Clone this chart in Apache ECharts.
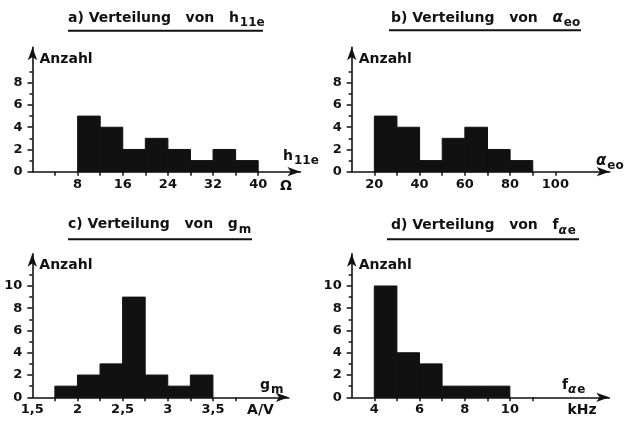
<!DOCTYPE html>
<html><head><meta charset="utf-8">
<script src="https://cdn.jsdelivr.net/npm/echarts@6/dist/echarts.min.js"></script>
<style>html,body{margin:0;padding:0;background:#fff}#c{width:627px;height:422px}</style>
</head><body><div id="c"></div>
<script>
// ---- data ----
const aEdges = [8, 12, 16, 20, 24, 28, 32, 36, 40];
const aCounts = [5, 4, 2, 3, 2, 1, 2, 1];
const bEdges = [20, 30, 40, 50, 60, 70, 80, 90];
const bCounts = [5, 4, 1, 3, 4, 2, 1];
const cEdges = [1.75, 2, 2.25, 2.5, 2.75, 3, 3.25, 3.5];
const cCounts = [1, 2, 3, 9, 2, 1, 2];
const dEdges = [4, 5, 6, 7, 8, 9, 10];
const dCounts = [10, 4, 3, 1, 1, 1];

const aXTicks = [4, 8, 12, 16, 20, 24, 28, 32, 36, 40];
const aXLabels = [8, 16, 24, 32, 40];
const bXTicks = [20, 30, 40, 50, 60, 70, 80, 90, 100];
const bXLabels = [20, 40, 60, 80, 100];
const cXTicks = [1.75, 2, 2.25, 2.5, 2.75, 3, 3.25, 3.5, 3.75];
const cXLabels = [1.5, 2, 2.5, 3, 3.5];
const dXTicks = [4, 5, 6, 7, 8, 9, 10, 11];
const dXLabels = [4, 6, 8, 10];
const abYLabels = [0, 2, 4, 6, 8];
const abYMinor = [1, 3, 5, 7, 9];
const cdYLabels = [0, 2, 4, 6, 8, 10];
const cdYMinor = [1, 3, 5, 7, 9, 11];

const FONT = 'DejaVu Sans';
const INK = '#111';
const W = 'bold';

function bins(edges, counts) {
  return counts.map((c, i) => [edges[i], edges[i + 1], c]);
}

const panels = [
  { grid: { left: 32.5, top: 47.2, width: 268, height: 124.5 }, xMin: 0, xMax: 47.5, yMax: 11.2,
    xTicks: aXTicks, xLabels: aXLabels, yLabels: abYLabels, yMinor: abYMinor, data: bins(aEdges, aCounts) },
  { grid: { left: 351.7, top: 47.2, width: 258, height: 124.5 }, xMin: 10, xMax: 124, yMax: 11.2,
    xTicks: bXTicks, xLabels: bXLabels, yLabels: abYLabels, yMinor: abYMinor, data: bins(bEdges, bCounts) },
  { grid: { left: 32.3, top: 253.7, width: 256.5, height: 143.6 }, xMin: 1.5, xMax: 4.34, yMax: 12.9,
    xTicks: cXTicks, xLabels: cXLabels, yLabels: cdYLabels, yMinor: cdYMinor, data: bins(cEdges, cCounts) },
  { grid: { left: 351.7, top: 253.7, width: 257.6, height: 143.6 }, xMin: 3, xMax: 14.4, yMax: 12.9,
    xTicks: dXTicks, xLabels: dXLabels, yLabels: cdYLabels, yMinor: cdYMinor, data: bins(dEdges, dCounts) }
];

const grids = [], xAxes = [], yAxes = [], series = [];
panels.forEach((p, i) => {
  grids.push(p.grid);
  xAxes.push({
    type: 'value', gridIndex: i, min: p.xMin, max: p.xMax, position: 'bottom',
    axisLine: { show: true, onZero: false, symbol: ['none', 'arrow'], symbolSize: [7, 13],
      lineStyle: { color: INK, width: 1.6 } },
    axisTick: { show: true, customValues: p.xTicks, length: 4, lineStyle: { color: INK, width: 1.5 } },
    axisLabel: { show: true, customValues: p.xLabels, margin: 6, color: INK, fontFamily: FONT, fontSize: 13,
      fontWeight: W, showMinLabel: true, showMaxLabel: true,
      formatter: v => String(v).replace('.', ',') },
    splitLine: { show: false }
  });
  yAxes.push({
    type: 'value', gridIndex: i, min: 0, max: p.yMax, position: 'left',
    axisLine: { show: true, onZero: false, symbol: ['none', 'arrow'], symbolSize: [7, 13],
      lineStyle: { color: INK, width: 1.6 } },
    axisTick: { show: true, customValues: p.yLabels, length: 5, lineStyle: { color: INK, width: 1.5 } },
    axisLabel: { show: true, customValues: p.yLabels, margin: 10, color: INK, fontFamily: FONT, fontSize: 13,
      fontWeight: W, showMinLabel: true },
    splitLine: { show: false },
    name: 'Anzahl', nameLocation: 'end', nameGap: -12,
    nameTextStyle: { align: 'left', verticalAlign: 'middle', padding: [0, 0, 0, 7],
      color: INK, fontFamily: FONT, fontSize: 14, fontWeight: W }
  });
  yAxes.push({
    type: 'value', gridIndex: i, min: 0, max: p.yMax, position: 'left', offset: 0,
    axisLine: { show: false },
    axisTick: { show: true, customValues: p.yMinor, length: 3, lineStyle: { color: INK, width: 1.5 } },
    axisLabel: { show: false },
    splitLine: { show: false }
  });
  series.push({
    type: 'custom', xAxisIndex: i, yAxisIndex: 2 * i,
    encode: { x: [0, 1], y: 2 },
    data: p.data,
    renderItem: function (params, api) {
      const p0 = api.coord([api.value(0), api.value(2)]);
      const p1 = api.coord([api.value(1), 0]);
      return { type: 'rect',
        shape: { x: p0[0], y: p0[1], width: p1[0] - p0[0], height: p1[1] - p0[1] },
        style: { fill: INK, stroke: INK, lineWidth: 1 } };
    },
    z: 1
  });
});

const R = {
  m: { fontFamily: FONT, fontSize: 14, fontWeight: W, fill: INK, verticalAlign: 'top', lineHeight: 17 },
  s: { fontFamily: FONT, fontSize: 12, fontWeight: W, fill: INK, verticalAlign: 'top', lineHeight: 14, padding: [6, 0, 0, 1] },
  si: { fontFamily: FONT, fontSize: 15, fontWeight: W, fontStyle: 'italic', fill: INK, verticalAlign: 'top', lineHeight: 17 },
  ssi: { fontFamily: FONT, fontSize: 12, fontWeight: W, fontStyle: 'italic', fill: INK, verticalAlign: 'top', lineHeight: 14, padding: [6, 0, 0, 0] }
};
function txt(x, y, text, align) {
  return { type: 'text', x: x, y: y,
    style: { text: text, rich: R, fill: INK, font: W + ' 14px "' + FONT + '"', align: align || 'left', verticalAlign: 'top' } };
}
const graphics = [
  txt(68, 11, '{m|a) Verteilung   von   h}{s|11e}'),
  txt(391, 11, '{m|b) Verteilung   von   }{si|α}{s|eo}'),
  txt(68, 217.5, '{m|c) Verteilung   von   g}{s|m}'),
  txt(391, 218.5, '{m|d) Verteilung   von   f}{ssi|α}{s|e}'),
  { type: 'line', shape: { x1: 68, y1: 30.7, x2: 263, y2: 30.7 }, style: { stroke: INK, lineWidth: 2 } },
  { type: 'line', shape: { x1: 389, y1: 30.2, x2: 581, y2: 30.2 }, style: { stroke: INK, lineWidth: 2 } },
  { type: 'line', shape: { x1: 68, y1: 239.3, x2: 252, y2: 239.3 }, style: { stroke: INK, lineWidth: 2 } },
  { type: 'line', shape: { x1: 387, y1: 239.3, x2: 579, y2: 239.3 }, style: { stroke: INK, lineWidth: 2 } },
  txt(283, 149, '{m|h}{s|11e}'),
  txt(596, 154, '{si|α}{s|eo}'),
  txt(260, 378, '{m|g}{s|m}'),
  txt(562, 378, '{m|f}{ssi|α}{s|e}'),
  txt(286, 179, '{m|Ω}', 'center'),
  txt(260.5, 403, '{m|A/V}', 'center'),
  txt(582, 403, '{m|kHz}', 'center')
];

const chart = echarts.init(document.getElementById('c'), null, { renderer: 'canvas' });
chart.setOption({
  backgroundColor: '#fff',
  animation: false,
  grid: grids, xAxis: xAxes, yAxis: yAxes, series: series,
  graphic: graphics
});
</script></body></html>
